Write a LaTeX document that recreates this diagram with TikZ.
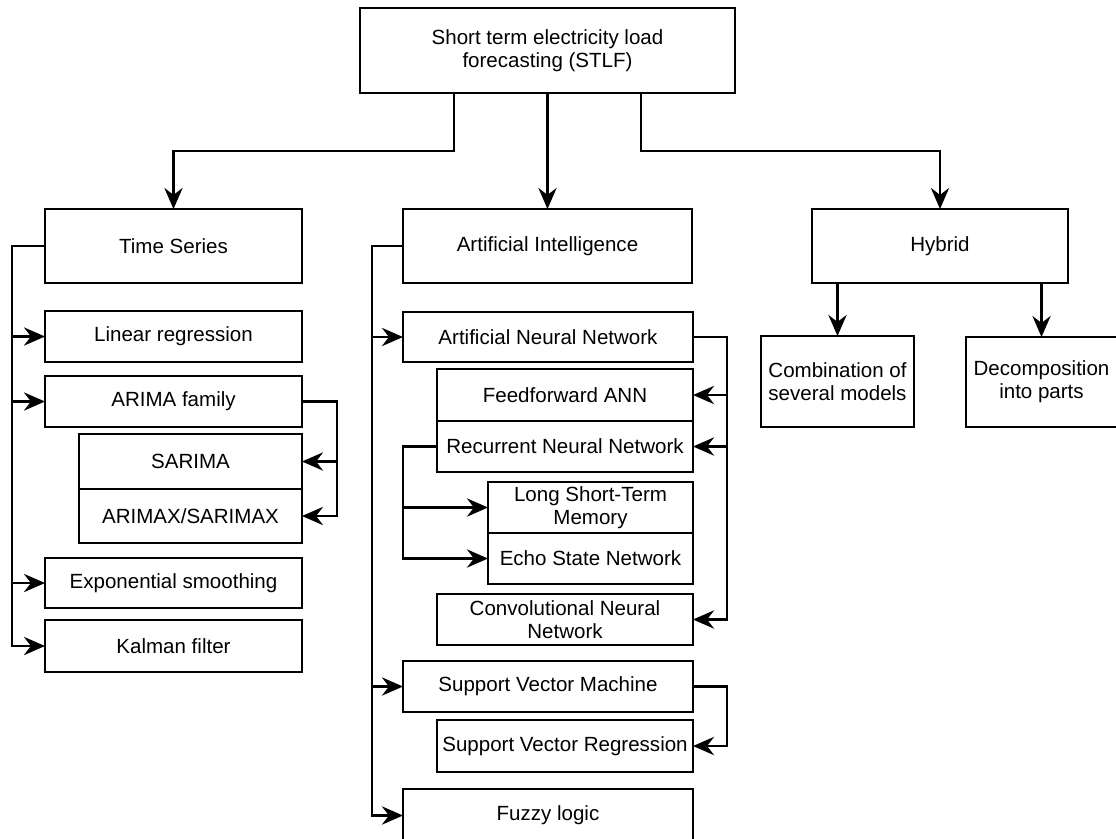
\documentclass[tikz,border=0pt]{standalone}
\usepackage{fontspec}
\setmainfont{Liberation Sans}
\usepackage{tikz}
\usetikzlibrary{arrows.meta,positioning,calc}
\newcommand{\px}{0.025cm}
\tikzstyle{connector} = [line width=1.5pt,-{Stealth[length=15pt,width=13pt,inset=5pt]},color=black]
\tikzstyle{block} = [rectangle, draw=black, line width=1.5pt, fill=white, text centered, align=center, inner sep=2pt, outer sep=0pt, font=\fontsize{14.6pt}{16.5pt}\selectfont]

\begin{document}
\begin{tikzpicture}[x=\px, y=-\px]
\useasboundingbox (0,0) rectangle (1116,838);
\clip (0,0) rectangle (1116,838);
% Root
\node (stlf) [block, minimum width=375*\px, minimum height=85*\px] at (547.5,50.5) {Short term electricity load\\forecasting (STLF)};

% Main families
\node (ts) [block, minimum width=257*\px, minimum height=74*\px] at (173.5,246) {Time Series};
\node (ai) [block, minimum width=289*\px, minimum height=74*\px] at (547.5,246) {Artificial Intelligence};
\node (hyb) [block, minimum width=256*\px, minimum height=74*\px] at (940,246) {Hybrid};

% Time series methods
\node (lr) [block, minimum width=257*\px, minimum height=51*\px] at (173.5,336.5) {Linear regression};
\node (arima) [block, minimum width=257*\px, minimum height=51*\px] at (173.5,401.5) {ARIMA family};
\node (sarima) [block, minimum width=223*\px, minimum height=55*\px] at (190.5,461.5) {SARIMA};
\node (arimax) [block, minimum width=223*\px, minimum height=54*\px] at (190.5,516) {ARIMAX/SARIMAX};
\node (exps) [block, minimum width=257*\px, minimum height=50*\px] at (173.5,583) {Exponential smoothing};
\node (kal) [block, minimum width=257*\px, minimum height=52*\px] at (173.5,646) {Kalman filter};

% AI methods
\node (ann) [block, minimum width=290*\px, minimum height=50*\px] at (548,337) {Artificial Neural Network};
\node (ffann) [block, minimum width=256*\px, minimum height=52*\px] at (565,395) {Feedforward ANN};
\node (rnn) [block, minimum width=256*\px, minimum height=51*\px] at (565,446.5) {Recurrent Neural Network};
\node (lstm) [block, minimum width=205*\px, minimum height=51*\px] at (590.5,507.5) {Long Short-Term\\Memory};
\node (esn) [block, minimum width=205*\px, minimum height=51*\px] at (590.5,558.5) {Echo State Network};
\node (cnn) [block, minimum width=256*\px, minimum height=51*\px] at (565,619.5) {Convolutional Neural\\Network};
\node (svm) [block, minimum width=290*\px, minimum height=51*\px] at (548,686.5) {Support Vector Machine};
\node (svr) [block, minimum width=256*\px, minimum height=52*\px] at (565,746) {Support Vector Regression};
\node (fuzzy) [block, minimum width=290*\px, minimum height=53*\px] at (548,815.5) {Fuzzy logic};

% Hybrid methods
\node (comb) [block, minimum width=153*\px, minimum height=91*\px] at (837.5,381.5) {Combination of\\several models};
\node (dec) [block, minimum width=151*\px, minimum height=90*\px] at (1041.5,382) {Decomposition\\into parts};

% Trunk coordinates
\coordinate (tstrunk) at (12,0);
\coordinate (aitrunk) at (372,0);
\coordinate (arimabus) at (337,0);
\coordinate (annbus) at (727,0);
\coordinate (rnnbus) at (403,0);

% Root connectors
\draw[connector] ($(stlf.south west)!0.25!(stlf.south east)$) -- ++(0,58) -| (ts.north);
\draw[connector] (stlf.south) -- (ai.north);
\draw[connector] ($(stlf.south west)!0.75!(stlf.south east)$) -- ++(0,58) -| (hyb.north);

% Time series tree
\draw[connector] (ts.west) -| (tstrunk |- kal.west) -- (kal.west);
\foreach \n in {lr,arima,exps}
  \draw[connector] (tstrunk |- \n.west) -- (\n.west);
\draw[connector] (arima.east) -| (arimabus |- arimax.east) -- (arimax.east);
\draw[connector] (arimabus |- sarima.east) -- (sarima.east);

% AI tree
\draw[connector] (ai.west) -| (aitrunk |- fuzzy.west) -- (fuzzy.west);
\foreach \n in {ann,svm}
  \draw[connector] (aitrunk |- \n.west) -- (\n.west);
\draw[connector] (ann.east) -| (annbus |- cnn.east) -- (cnn.east);
\foreach \n in {ffann,rnn}
  \draw[connector] (annbus |- \n.east) -- (\n.east);
\draw[connector] (rnn.west) -| (rnnbus |- esn.west) -- (esn.west);
\draw[connector] (rnnbus |- lstm.west) -- (lstm.west);
\draw[connector] (svm.east) -| (annbus |- svr.east) -- (svr.east);

% Hybrid tree
\draw[connector] (comb.north |- hyb.south) -- (comb.north);
\draw[connector] (dec.north |- hyb.south) -- (dec.north);
\end{tikzpicture}
\end{document}
